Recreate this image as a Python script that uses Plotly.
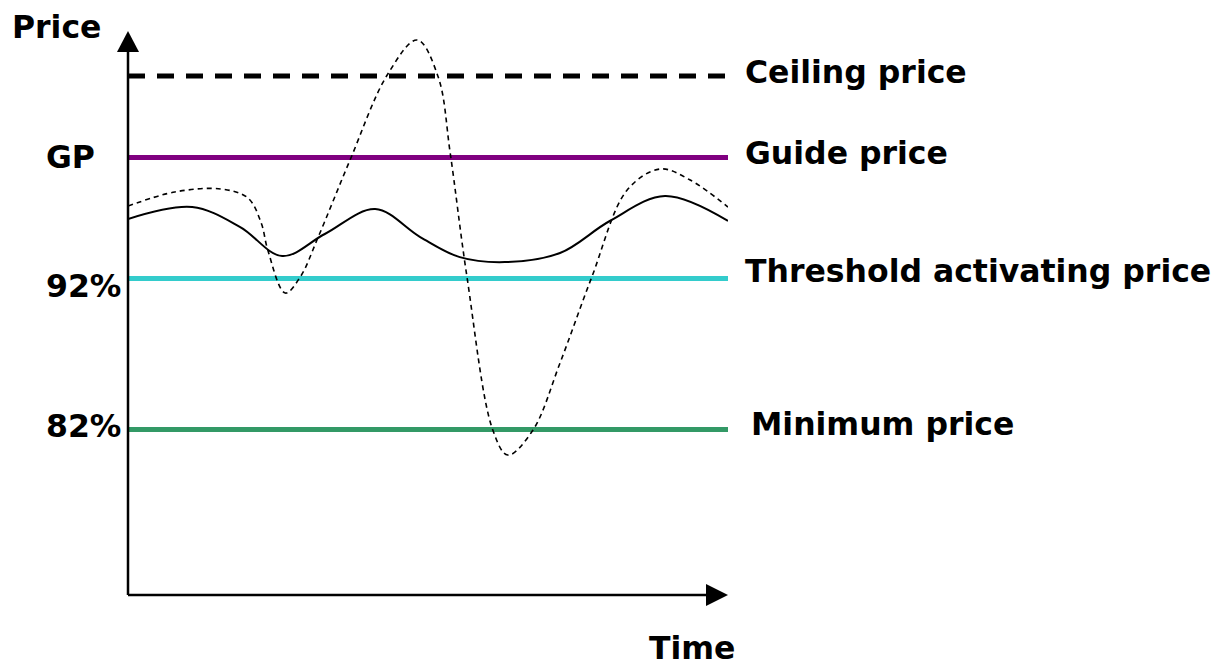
import plotly.graph_objects as go

# Price levels, expressed as percent of the guide price (GP = 100)
level_names = ["Ceiling price", "Guide price", "Threshold activating price", "Minimum price"]
level_values = [105.4, 100.0, 92.0, 82.0]
level_colors = ["#000000", "#800080", "#33CCCC", "#339966"]
level_dash = ["17px,12px", "solid", "solid", "solid"]
level_width = [5, 5, 5, 5]

# Left-hand level markers
axis_marks = ["GP", "92%", "82%"]
axis_mark_values = [100.0, 92.0, 82.0]

# Smooth price path (solid curve)
smooth_t = [0, 10.7, 18.7, 25.7, 32.8, 41.2, 48.7, 55.3, 62.8, 72.0, 80.3, 89.5, 100]
smooth_v = [95.93, 96.72, 95.40, 93.48, 94.94, 96.59, 94.74, 93.41, 93.08, 93.68,
            95.80, 97.45, 95.80]

# Volatile price path (dashed curve)
volatile_t = [0, 7.8, 15.5, 20.0, 22.2, 23.3, 26.2, 28.7, 31.7, 37.0, 43.2, 48.2,
              51.7, 53.7, 56.5, 60.8, 63.3, 67.5, 72.0, 77.3, 83.2, 88.7, 93.7, 100]
volatile_v = [96.79, 97.72, 97.92, 97.32, 95.67, 93.88, 91.03, 92.09, 94.74, 99.83,
              105.46, 107.78, 105.33, 100.30, 92.09, 81.97, 80.31, 81.97, 86.40,
              92.09, 97.85, 99.24, 98.51, 96.72]

W, H = 1224, 666
L, R, T, B = 128, 496, 30, 71          # plot-area margins (px)
PW, PH = W - L - R, H - T - B
Y_RANGE = [71.05, 108.44]
T_RANGE = [0, 100]

FONT = "DejaVu Sans"
FS = 31.5


def px_x(p):
    return (p - L) / PW


def px_y(p):
    return (H - B - p) / PH


fig = go.Figure()

for name, val, col, dash, lw in zip(level_names, level_values, level_colors,
                                    level_dash, level_width):
    fig.add_trace(go.Scatter(
        x=[T_RANGE[0], T_RANGE[1]], y=[val, val], mode="lines", name=name,
        line=dict(color=col, width=lw, dash=dash), hoverinfo="skip"))

fig.add_trace(go.Scatter(
    x=smooth_t, y=smooth_v, mode="lines", name="price",
    line=dict(color="black", width=2, shape="spline", smoothing=1.0)))

fig.add_trace(go.Scatter(
    x=volatile_t, y=volatile_v, mode="lines", name="volatile price",
    line=dict(color="black", width=1.6, dash="5px,4px", shape="spline",
              smoothing=1.0)))

# Axes with arrow heads
shapes = [
    dict(type="line", xref="paper", yref="paper", x0=0, x1=0, y0=0, y1=px_y(50),
         line=dict(color="black", width=2.5)),
    dict(type="path", xref="paper", yref="paper", fillcolor="black",
         line=dict(color="black", width=0),
         path=f"M {px_x(117)},{px_y(52)} L {px_x(128)},{px_y(31)} L {px_x(139)},{px_y(52)} Z"),
    dict(type="line", xref="paper", yref="paper", x0=0, x1=px_x(708), y0=0, y1=0,
         line=dict(color="black", width=2.5)),
    dict(type="path", xref="paper", yref="paper", fillcolor="black",
         line=dict(color="black", width=0),
         path=f"M {px_x(706)},{px_y(584)} L {px_x(728)},{px_y(595)} L {px_x(706)},{px_y(606)} Z"),
]

annotations = []
right_shift = [4, 5, 7, 6]
right_x = [743, 743, 743, 749]
for name, val, sh, rx in zip(level_names, level_values, right_shift, right_x):
    annotations.append(dict(
        text=f"<b>{name}</b>", xref="paper", yref="y", x=px_x(rx), y=val,
        xanchor="left", yanchor="middle", showarrow=False, yshift=sh,
        font=dict(family=FONT, size=FS, color="black")))

left_shift = [1, -8, 4]
for mark, val, sh in zip(axis_marks, axis_mark_values, left_shift):
    annotations.append(dict(
        text=f"<b>{mark}</b>", xref="paper", yref="y", x=px_x(44), y=val,
        xanchor="left", yanchor="middle", showarrow=False, yshift=sh,
        font=dict(family=FONT, size=FS, color="black")))

annotations.append(dict(
    text="<b>Price</b>", xref="paper", yref="paper", x=px_x(10), y=px_y(27),
    xanchor="left", yanchor="middle", showarrow=False,
    font=dict(family=FONT, size=FS, color="black")))
annotations.append(dict(
    text="<b>Time</b>", xref="paper", yref="paper", x=px_x(647), y=px_y(648),
    xanchor="left", yanchor="middle", showarrow=False,
    font=dict(family=FONT, size=FS, color="black")))

fig.update_layout(
    width=W, height=H, margin=dict(l=L, r=R, t=T, b=B),
    paper_bgcolor="white", plot_bgcolor="white", showlegend=False,
    xaxis=dict(range=T_RANGE, visible=False, fixedrange=True),
    yaxis=dict(range=Y_RANGE, visible=False, fixedrange=True),
    shapes=shapes, annotations=annotations,
)

fig.write_html("out.html", config={"displayModeBar": False})
